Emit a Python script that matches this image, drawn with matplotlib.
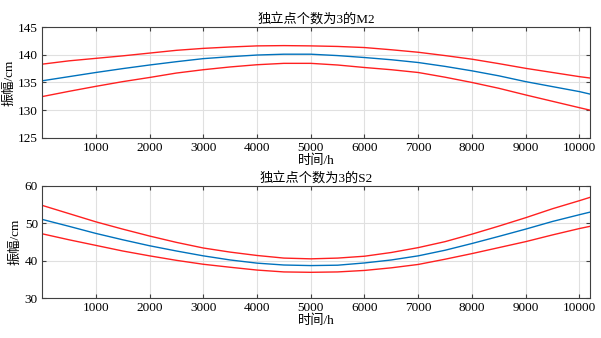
import matplotlib
matplotlib.use("Agg")
import matplotlib.pyplot as plt

plt.rcParams["font.family"] = ["Liberation Serif", "Noto Sans CJK SC"]
plt.rcParams["font.size"] = 9

# time axis (h)
t = [0, 500, 1000, 1500, 2000, 2500, 3000, 3500, 4000, 4500, 5000,
     5500, 6000, 6500, 7000, 7500, 8000, 8500, 9000, 9500, 10000, 10200]

# M2 amplitude (cm): estimate and bounds
m2_up = [138.3, 138.9, 139.35, 139.8, 140.3, 140.8, 141.15, 141.4, 141.6, 141.65, 141.6,
         141.5, 141.3, 140.9, 140.45, 139.85, 139.2, 138.4, 137.55, 136.8, 136.05, 135.8]
m2_mid = [135.3, 136.05, 136.8, 137.5, 138.15, 138.75, 139.3, 139.65, 139.95, 140.1, 140.1,
          139.85, 139.5, 139.1, 138.6, 137.9, 137.1, 136.2, 135.15, 134.25, 133.35, 132.9]
m2_lo = [132.45, 133.4, 134.3, 135.15, 135.9, 136.7, 137.3, 137.8, 138.2, 138.45, 138.45,
         138.15, 137.7, 137.3, 136.8, 135.95, 135.0, 133.95, 132.75, 131.6, 130.45, 130.0]

# S2 amplitude (cm)
s2_up = [54.8, 52.6, 50.4, 48.45, 46.6, 44.9, 43.4, 42.3, 41.4, 40.7, 40.5,
         40.7, 41.2, 42.2, 43.5, 45.1, 47.1, 49.25, 51.5, 53.9, 56.05, 56.95]
s2_mid = [51.05, 49.2, 47.3, 45.6, 44.0, 42.6, 41.3, 40.2, 39.35, 38.85, 38.7,
          38.8, 39.4, 40.2, 41.3, 42.8, 44.6, 46.5, 48.45, 50.5, 52.3, 53.0]
s2_lo = [47.2, 45.6, 44.1, 42.6, 41.3, 40.1, 39.05, 38.25, 37.5, 37.0, 36.9,
         37.0, 37.4, 38.1, 39.0, 40.4, 41.9, 43.5, 45.1, 46.9, 48.6, 49.2]

panels = [
    ("独立点个数为3的M2", m2_mid, m2_up, m2_lo, (125, 145), [125, 130, 135, 140, 145]),
    ("独立点个数为3的S2", s2_mid, s2_up, s2_lo, (30, 60), [30, 40, 50, 60]),
]

fig = plt.figure(figsize=(6.01, 3.38), dpi=100)
boxes = [[0.07, 0.592, 0.912, 0.328], [0.07, 0.118, 0.912, 0.332]]

for box, (title, mid, up, lo, ylim, yticks) in zip(boxes, panels):
    ax = fig.add_axes(box)
    ax.plot(t, up, color="#ff2020", lw=1.0)
    ax.plot(t, mid, color="#0072bd", lw=1.0)
    ax.plot(t, lo, color="#ff2020", lw=1.0)
    ax.set_xlim(0, 10200)
    ax.set_ylim(*ylim)
    ax.set_xticks(range(1000, 10001, 1000))
    ax.set_yticks(yticks)
    ax.grid(True, color="#e0e0e0", lw=0.8)
    ax.set_axisbelow(True)
    ax.tick_params(direction="in", top=True, right=True, length=3,
                   color="#404040", labelsize=9.5, pad=3)
    for s in ax.spines.values():
        s.set_color("#404040")
        s.set_linewidth(0.8)
    ax.set_title(title, fontsize=9.5, pad=3)
    ax.set_xlabel("时间/h", fontsize=9.5, labelpad=0)
    ax.set_ylabel("振幅/cm", fontsize=9.5, labelpad=2)

fig.savefig("out.png", dpi=100)
